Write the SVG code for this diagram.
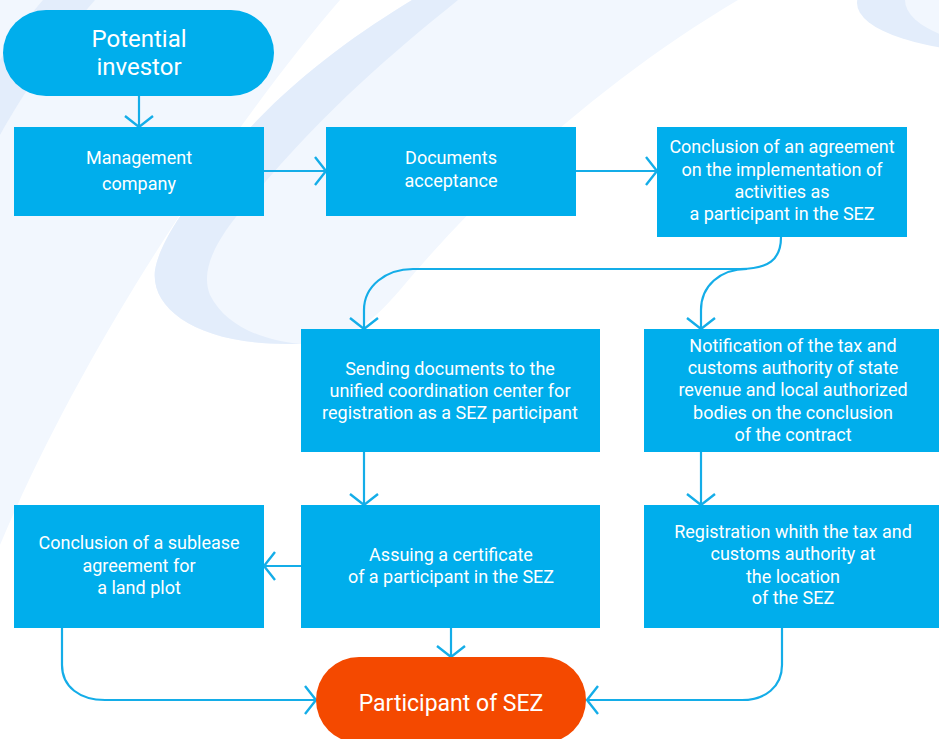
<svg xmlns="http://www.w3.org/2000/svg" width="939" height="739" viewBox="0 0 939 739">
<defs>
<style>
.box{fill:#00AEEC}
.pill{fill:#00AEEC}
.end{fill:#F44900}
.t{font-family:Roboto,"Liberation Sans",sans-serif;fill:#FFFFFF;text-anchor:middle;font-size:18px}
.tb{font-family:Roboto,"Liberation Sans",sans-serif;fill:#FFFFFF;text-anchor:middle;font-size:24px}
.te{font-family:Roboto,"Liberation Sans",sans-serif;fill:#FFFFFF;text-anchor:middle;font-size:23px}
.c{fill:none;stroke:#14ADE8;stroke-width:2.2}
.bgl{fill:#F2F7FE}
.bgd{fill:#E3EDFB}
</style>
<marker id="ah" markerUnits="userSpaceOnUse" viewBox="-13 -16 15 32" refX="0" refY="0" markerWidth="15" markerHeight="32" orient="auto">
<path d="M-11,-14 L0,0 L-11,14" fill="none" stroke="#14ADE8" stroke-width="2.4"/>
</marker>
</defs>
<rect width="939" height="739" fill="#FFFFFF"/>
<g id="background">
<path class="bgl" d="M0,0 H340 C245,110 90,330 0,545 Z"/>
<path class="bgd" d="M43,0 H95 C60,40 25,90 0,135 V60 C15,35 28,17 43,0 Z"/>
<path class="bgl" d="M412,0 H738 C620,70 500,170 400,290 C370,325 345,344 300,344 L290,344 C200,345 150,310 155,270 C160,240 190,200 230,150 C290,80 355,35 412,0 Z"/>
<path class="bgd" d="M412,0 H458 C390,55 325,110 250,200 C215,240 200,270 210,295 C225,325 260,340 300,344 L290,344 C200,345 150,310 155,270 C160,240 190,200 230,150 C290,80 355,35 412,0 Z"/>
<ellipse class="bgd" cx="1010" cy="3" rx="153" ry="50"/>
<ellipse class="bgl" cx="1035" cy="0" rx="130" ry="50"/>
</g>
<g id="connectors">
<path class="c" d="M139,96 V127" marker-end="url(#ah)"/>
<path class="c" d="M264,171 H326" marker-end="url(#ah)"/>
<path class="c" d="M576,171 H657" marker-end="url(#ah)"/>
<path class="c" d="M781,237 C781,260 768,269 740,269 H413 C386,269 364,286 364,310 V329" marker-end="url(#ah)"/>
<path class="c" d="M747,269 C720,269 701,286 701,310 V329" marker-end="url(#ah)"/>
<path class="c" d="M364,452 V505" marker-end="url(#ah)"/>
<path class="c" d="M701,452 V505" marker-end="url(#ah)"/>
<path class="c" d="M301,566 H264" marker-end="url(#ah)"/>
<path class="c" d="M451,628 V657" marker-end="url(#ah)"/>
<path class="c" d="M62,628 V665 C62,687 80,700 105,700 H316" marker-end="url(#ah)"/>
<path class="c" d="M782,628 V665 C782,687 765,700 742,700 H587" marker-end="url(#ah)"/>
</g>
<g id="potential-investor">
<rect class="pill" x="3" y="10" width="271" height="86" rx="43"/>
<text class="tb" x="139" y="47">Potential</text>
<text class="tb" x="139" y="75">investor</text>
</g>
<g id="management-company">
<rect class="box" x="14" y="127" width="250" height="89"/>
<text class="t" x="139" y="164">Management</text>
<text class="t" x="139" y="190">company</text>
</g>
<g id="documents-acceptance">
<rect class="box" x="326" y="127" width="250" height="89"/>
<text class="t" x="451" y="164">Documents</text>
<text class="t" x="451" y="187">acceptance</text>
</g>
<g id="conclusion-agreement">
<rect class="box" x="657" y="127" width="250" height="110"/>
<text class="t" x="782" y="153">Conclusion of an agreement</text>
<text class="t" x="782" y="176">on the implementation of</text>
<text class="t" x="782" y="198">activities as</text>
<text class="t" x="782" y="220">a participant in the SEZ</text>
</g>
<g id="sending-documents">
<rect class="box" x="301" y="329" width="299" height="123"/>
<text class="t" x="450" y="375">Sending documents to the</text>
<text class="t" x="450" y="397">unified coordination center for</text>
<text class="t" x="450" y="419">registration as a SEZ participant</text>
</g>
<g id="notification">
<rect class="box" x="644" y="329" width="295" height="123"/>
<text class="t" x="793" y="352">Notification of the tax and</text>
<text class="t" x="793" y="374">customs authority of state</text>
<text class="t" x="793" y="396">revenue and local authorized</text>
<text class="t" x="793" y="419">bodies on the conclusion</text>
<text class="t" x="793" y="441">of the contract</text>
</g>
<g id="sublease">
<rect class="box" x="14" y="505" width="250" height="123"/>
<text class="t" x="139" y="549">Conclusion of a sublease</text>
<text class="t" x="139" y="572">agreement for</text>
<text class="t" x="139" y="594">a land plot</text>
</g>
<g id="certificate">
<rect class="box" x="301" y="505" width="299" height="123"/>
<text class="t" x="451" y="561">Assuing a certificate</text>
<text class="t" x="451" y="583">of a participant in the SEZ</text>
</g>
<g id="registration">
<rect class="box" x="644" y="505" width="295" height="123"/>
<text class="t" x="793" y="538">Registration whith the tax and</text>
<text class="t" x="793" y="560">customs authority at</text>
<text class="t" x="793" y="583">the location</text>
<text class="t" x="793" y="604">of the SEZ</text>
</g>
<g id="participant-of-sez">
<rect class="end" x="316" y="657" width="270" height="86" rx="43"/>
<text class="te" x="451" y="711">Participant of SEZ</text>
</g>
</svg>
